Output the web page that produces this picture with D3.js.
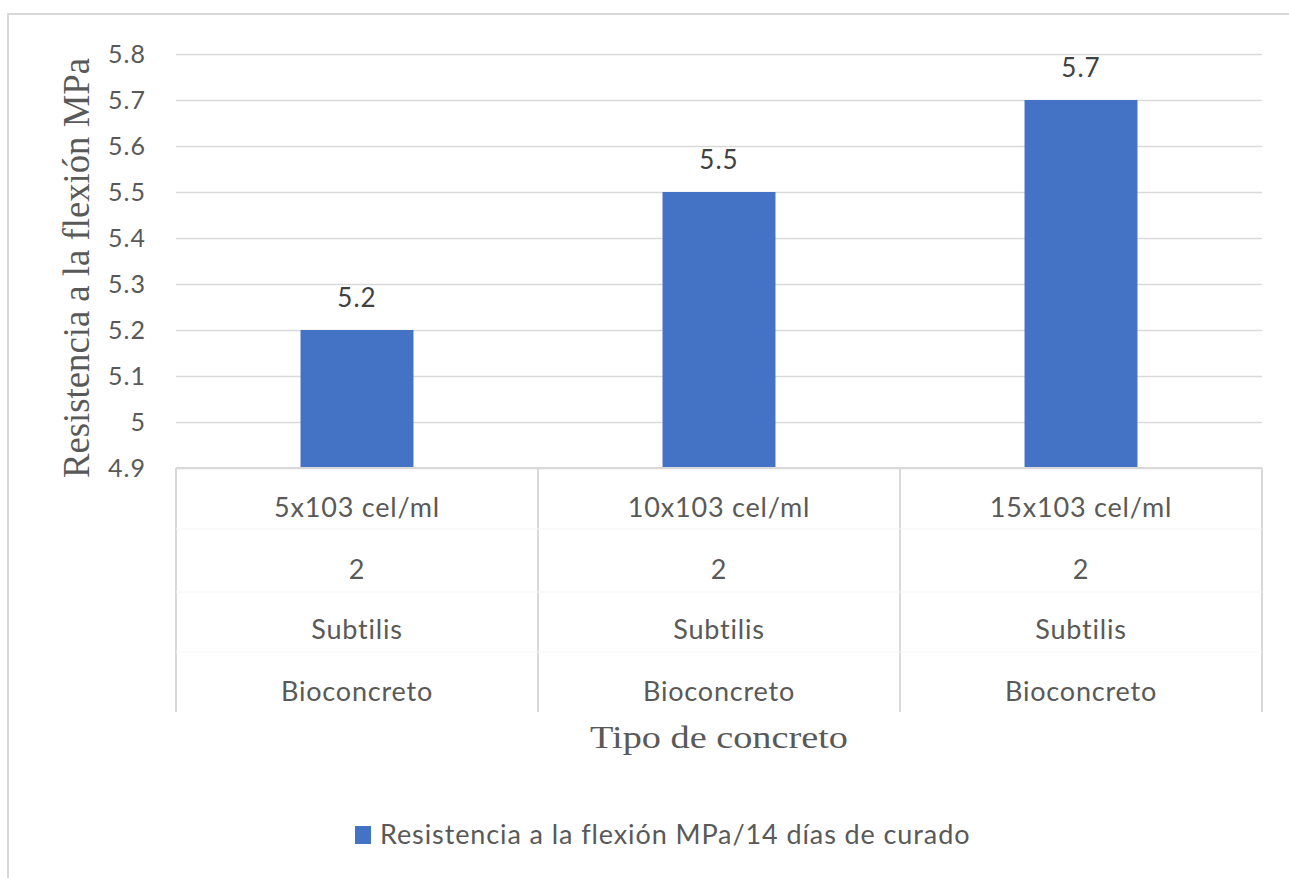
<!DOCTYPE html>
<html>
<head>
<meta charset="utf-8">
<script src="https://cdn.jsdelivr.net/npm/d3@7"></script>
<style>
  html, body { margin: 0; padding: 0; background: #ffffff; }
  svg { display: block; }
</style>
</head>
<body>
<svg id="chart" width="1289" height="878"></svg>
<script>
// ---- Data ----
const categories = ["5x103 cel/ml", "10x103 cel/ml", "15x103 cel/ml"];
const level2 = ["2", "2", "2"];
const level3 = ["Subtilis", "Subtilis", "Subtilis"];
const level4 = ["Bioconcreto", "Bioconcreto", "Bioconcreto"];
const values = [5.2, 5.5, 5.7];
const dataLabels = ["5.2", "5.5", "5.7"];
const yTicks = [4.9, 5.0, 5.1, 5.2, 5.3, 5.4, 5.5, 5.6, 5.7, 5.8];
const yTickLabels = ["4.9", "5", "5.1", "5.2", "5.3", "5.4", "5.5", "5.6", "5.7", "5.8"];
const seriesName = "Resistencia a la flexión MPa/14 días de curado";
const yTitle = "Resistencia a la flexión MPa";
const xTitle = "Tipo de concreto";

// ---- Layout ----
const svg = d3.select("#chart");
const plot = { left: 176, right: 1262, top: 54, bottom: 468 };
const sans = "Lato, 'Open Sans', sans-serif";
const serif = "'Liberation Serif', 'DejaVu Serif', serif";
const barColor = "#4472C4";
const gridColor = "#d9d9d9";

// outer chart border
svg.append("rect")
  .attr("x", 8).attr("y", 14)
  .attr("width", 1300).attr("height", 900)
  .attr("fill", "#fff")
  .attr("stroke", gridColor).attr("stroke-width", 2);

const x = d3.scaleBand().domain(categories).range([plot.left, plot.right]).paddingInner(0).paddingOuter(0);
const y = d3.scaleLinear().domain([4.9, 5.8]).range([plot.bottom, plot.top]);
const barW = x.bandwidth() * 0.312;

// gridlines
const yAxis = d3.axisLeft(y).tickValues(yTicks)
  .tickSize(-(plot.right - plot.left))
  .tickPadding(30)
  .tickFormat((d, i) => yTickLabels[i]);
const gy = svg.append("g").attr("transform", `translate(${plot.left},0)`).call(yAxis);
gy.select(".domain").remove();
gy.selectAll(".tick line").attr("stroke", gridColor).attr("stroke-width", 1.5);
gy.selectAll(".tick text")
  .attr("fill", "#595959")
  .style("font-family", sans)
  .style("font-size", "25px")
  .style("letter-spacing", "1px");

// bars
svg.append("g").selectAll("rect")
  .data(values)
  .join("rect")
  .attr("x", (d, i) => x(categories[i]) + (x.bandwidth() - barW) / 2)
  .attr("y", d => y(d))
  .attr("width", barW)
  .attr("height", d => y(4.9) - y(d))
  .attr("fill", barColor);

// data labels
svg.append("g").selectAll("text")
  .data(values)
  .join("text")
  .attr("x", (d, i) => x(categories[i]) + x.bandwidth() / 2)
  .attr("y", d => y(d) - 32)
  .attr("dy", "0.35em")
  .attr("text-anchor", "middle")
  .attr("fill", "#404040")
  .style("font-family", sans)
  .style("font-size", "26px")
  .style("letter-spacing", "1px")
  .text((d, i) => dataLabels[i]);

// category axis (multi-level)
const axisBottom = 712;
svg.append("line")
  .attr("x1", plot.left).attr("x2", plot.right)
  .attr("y1", plot.bottom).attr("y2", plot.bottom)
  .attr("stroke", gridColor).attr("stroke-width", 2);

const boundaries = categories.map(c => x(c)).concat([x(categories[categories.length - 1]) + x.bandwidth()]);
svg.append("g").selectAll("line")
  .data(boundaries)
  .join("line")
  .attr("x1", d => d).attr("x2", d => d)
  .attr("y1", plot.bottom).attr("y2", axisBottom)
  .attr("stroke", gridColor).attr("stroke-width", 2);

// faint row separators
[529, 592, 652].forEach(yy => {
  svg.append("line")
    .attr("x1", plot.left).attr("x2", plot.right)
    .attr("y1", yy).attr("y2", yy)
    .attr("stroke", "#f6f6f6").attr("stroke-width", 1);
});

const levels = [categories, level2, level3, level4];
const levelY = [508, 570, 630, 692];
levels.forEach((labels, li) => {
  svg.append("g").selectAll("text")
    .data(labels)
    .join("text")
    .attr("x", (d, i) => x(categories[i]) + x.bandwidth() / 2)
    .attr("y", levelY[li])
    .attr("dy", "0.35em")
    .attr("text-anchor", "middle")
    .attr("fill", "#595959")
    .style("font-family", sans)
    .style("font-size", "27px")
    .style("letter-spacing", "0.8px")
    .text(d => d);
});

// axis titles
svg.append("text")
  .attr("transform", `translate(89,268) rotate(-90)`)
  .attr("text-anchor", "middle")
  .attr("fill", "#595959")
  .attr("textLength", 420)
  .attr("lengthAdjust", "spacingAndGlyphs")
  .style("font-family", serif)
  .style("font-size", "37px")
  .text(yTitle);

svg.append("text")
  .attr("x", 719)
  .attr("y", 748)
  .attr("text-anchor", "middle")
  .attr("fill", "#595959")
  .attr("textLength", 258)
  .attr("lengthAdjust", "spacingAndGlyphs")
  .style("font-family", serif)
  .style("font-size", "32px")
  .text(xTitle);

// legend
const legend = svg.append("g");
legend.append("rect")
  .attr("x", 355).attr("y", 826)
  .attr("width", 16).attr("height", 18)
  .attr("fill", barColor);
legend.append("text")
  .attr("x", 380).attr("y", 835)
  .attr("dy", "0.35em")
  .attr("fill", "#595959")
  .style("font-family", sans)
  .style("font-size", "27px")
  .style("letter-spacing", "0.9px")
  .text(seriesName);
</script>
</body>
</html>
